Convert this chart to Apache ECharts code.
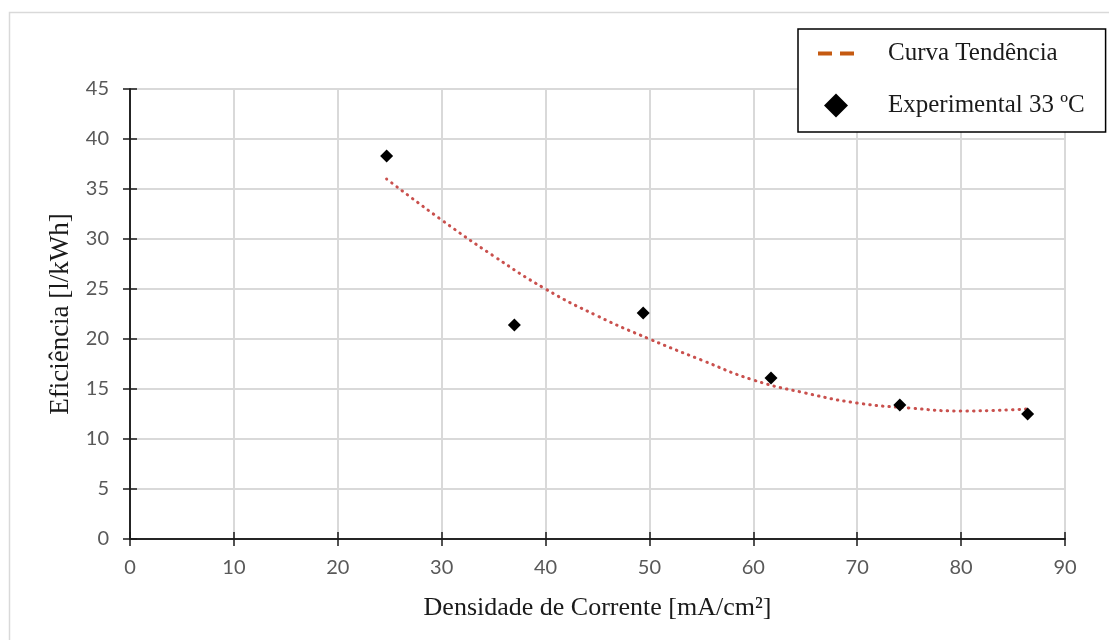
<!DOCTYPE html>
<html>
<head>
<meta charset="utf-8">
<script src="https://cdn.jsdelivr.net/npm/echarts@6/dist/echarts.min.js"></script>
<style>
html,body{margin:0;padding:0;background:#fff;}
#chart{width:1109px;height:640px;}
</style>
</head>
<body>
<div id="chart"></div>
<script>
// Experimental points
const expX = [24.7, 37.0, 49.4, 61.7, 74.1, 86.4];
const expY = [38.3, 21.4, 22.6, 16.1, 13.4, 12.5];
// Trend curve
const trendX = [24.7, 30, 35, 40, 45, 50, 55, 60, 65, 70, 75, 80, 86.4];
const trendY = [36.0, 31.9, 28.3, 25.0, 22.3, 20.0, 17.9, 15.9, 14.6, 13.6, 13.1, 12.8, 13.0];
const xTicks = [0, 10, 20, 30, 40, 50, 60, 70, 80, 90];
const yTicks = [0, 5, 10, 15, 20, 25, 30, 35, 40, 45];
const seriesNames = ['Curva Tendência', 'Experimental 33 ºC'];
const xTitle = 'Densidade de Corrente [mA/cm²]';
const yTitle = 'Eficiência [l/kWh]';

const chart = echarts.init(document.getElementById('chart'));
const serif = 'Liberation Serif, Times New Roman, serif';
const tickFont = 'Lato, Liberation Sans, sans-serif';
const axisCol = '#1a1a1a';
const baseX = {
  type: 'value', min: 0, max: 90, interval: 10,
  axisLine: {show: true, onZero: false, lineStyle: {color: axisCol, width: 1.5}}
};
const baseY = {
  type: 'value', min: 0, max: 45, interval: 5,
  axisLine: {show: true, onZero: false, lineStyle: {color: axisCol, width: 1.5}}
};
chart.setOption({
  animation: false,
  graphic: [{
    type: 'rect', shape: {x: 9.5, y: 12.5, width: 1120, height: 660},
    style: {fill: 'none', stroke: '#d9d9d9', lineWidth: 1.5}, silent: true, z: -10
  }],
  grid: {left: 130, right: 44, top: 89, bottom: 101, containLabel: false},
  legend: {
    left: 798, top: 29, orient: 'vertical',
    padding: [12, 21, 14, 20],
    backgroundColor: '#fff',
    borderColor: '#000', borderWidth: 1.5,
    itemWidth: 36, itemHeight: 24, itemGap: 27,
    textStyle: {fontFamily: serif, fontSize: 25, color: '#1a1a1a', padding: [0, 0, 0, 29]},
    data: [
      {name: seriesNames[0], icon: 'path://M0,0H14V4H0Z M22,0H36V4H22Z', itemStyle: {color: '#C55A11', opacity: 1}},
      {name: seriesNames[1], icon: 'path://M0,0 M36,24 M18,0L30,12L18,24L6,12Z', itemStyle: {color: '#000', opacity: 1}}
    ]
  },
  xAxis: [
    Object.assign({}, baseX, {
      name: xTitle, nameLocation: 'middle', nameGap: 56,
      nameTextStyle: {fontFamily: serif, fontSize: 26, color: '#1a1a1a'},
      axisTick: {show: true, length: 7, lineStyle: {color: axisCol, width: 1.5}},
      axisLabel: {fontFamily: tickFont, fontSize: 20, color: '#595959', margin: 19,
        formatter: v => xTicks.includes(v) ? String(v) : ''},
      splitLine: {show: true, lineStyle: {color: '#d9d9d9', width: 2}}
    }),
    Object.assign({}, baseX, {
      position: 'bottom',
      axisTick: {show: true, inside: true, length: 7, lineStyle: {color: axisCol, width: 1.5}},
      axisLabel: {show: false}, splitLine: {show: false}
    })
  ],
  yAxis: [
    Object.assign({}, baseY, {
      name: yTitle, nameLocation: 'middle', nameGap: 53, nameRotate: 90,
      nameTextStyle: {fontFamily: serif, fontSize: 27, color: '#1a1a1a'},
      axisTick: {show: true, length: 7, lineStyle: {color: axisCol, width: 1.5}},
      axisLabel: {fontFamily: tickFont, fontSize: 20, color: '#595959', margin: 21,
        formatter: v => yTicks.includes(v) ? String(v) : ''},
      splitLine: {show: true, lineStyle: {color: '#d9d9d9', width: 2}}
    }),
    Object.assign({}, baseY, {
      position: 'left',
      axisTick: {show: true, inside: true, length: 7, lineStyle: {color: axisCol, width: 1.5}},
      axisLabel: {show: false}, splitLine: {show: false}
    })
  ],
  series: [
    {
      name: seriesNames[0], type: 'line', smooth: true, showSymbol: false, symbol: 'none',
      xAxisIndex: 0, yAxisIndex: 0,
      data: trendX.map((x, i) => [x, trendY[i]]),
      lineStyle: {color: '#C9504D', width: 3, type: [0.5, 6], cap: 'round'},
      itemStyle: {color: '#C55A11'}, z: 3
    },
    {
      name: seriesNames[1], type: 'scatter', symbol: 'diamond', symbolSize: 13,
      xAxisIndex: 0, yAxisIndex: 0,
      data: expX.map((x, i) => [x, expY[i]]),
      itemStyle: {color: '#000', opacity: 1}, z: 4
    }
  ]
});
</script>
</body>
</html>
